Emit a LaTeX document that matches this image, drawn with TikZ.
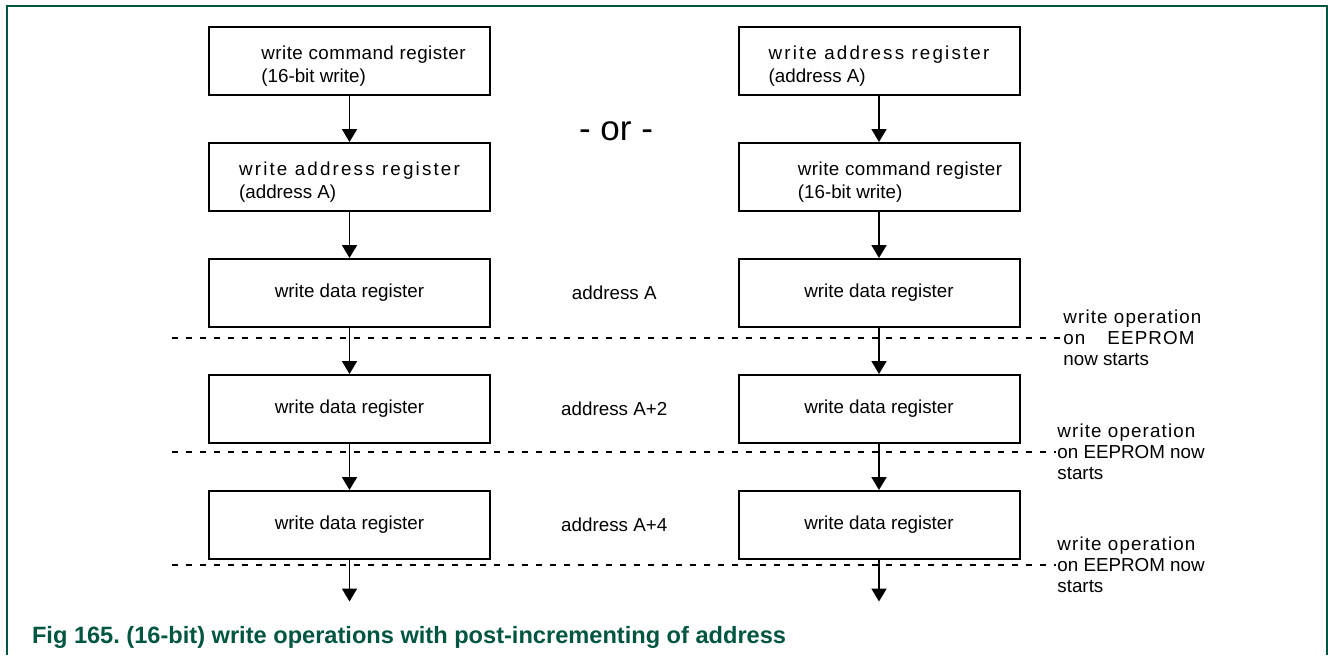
\documentclass[tikz,border=0pt]{standalone}
\usepackage{fontspec}
\setmainfont{Liberation Sans}
\newfontfamily\widefont[LetterSpace=11.5]{Liberation Sans}
\newfontfamily\opfont[LetterSpace=6]{Liberation Sans}
\newfontfamily\cmdfont[LetterSpace=2.5]{Liberation Sans}
\newcommand{\lowstrut}{\rule{0pt}{12pt}}
\usetikzlibrary{positioning, arrows.meta, calc}
\definecolor{figgreen}{HTML}{005641}

\begin{document}
\begin{tikzpicture}[
    x=0.5pt, y=-0.5pt,
    node distance=23.25pt and 0pt,
    font=\fontsize{9.4}{11.5}\selectfont,
    % register boxes
    regbox/.style={
        rectangle,
        draw=black,
        line width=1pt,
        minimum width=140.5pt,
        minimum height=33.75pt,
        align=left,
        inner sep=2pt
    },
    % arrows and start lines
    flow/.style={-{Triangle[length=6.5pt,width=7.5pt]}, line width=0.9pt},
    startline/.style={dash pattern=on 3pt off 4pt, line width=0.7pt},
    oplabel/.style={anchor=west, align=left, inner sep=0.5pt, font=\fontsize{9.4}{10.5}\selectfont},
    caption/.style={anchor=base west, text=figgreen, font=\bfseries\fontsize{11.8}{14}\selectfont}
]
\useasboundingbox (0,0) rectangle (1328,655);

% frame
\draw[figgreen, line width=1pt] (7,655) -- (7,6) -- (1326.5,6) -- (1326.5,655);

% -- left column --
\node[regbox] (l1) at (349.5,60.75) {\lowstrut\hspace*{14pt}{\cmdfont write command register}\\\hspace*{14pt}(16-bit write)};
\node[regbox, below=of l1] (l2) {\lowstrut{\widefont write address register}\\(address A)};
\node[regbox, below=of l2] (l3) {write data register};
\node[regbox, below=of l3] (l4) {write data register};
\node[regbox, below=of l4] (l5) {write data register};
\coordinate[below=21pt of l5] (l6);

% -- right column --
\node[regbox] (r1) at (879,60.75) {\lowstrut{\widefont write address register}\\(address A)};
\node[regbox, below=of r1] (r2) {\lowstrut\hspace*{21pt}{\cmdfont write command register}\\\hspace*{21pt}(16-bit write)};
\node[regbox, below=of r2] (r3) {write data register};
\node[regbox, below=of r3] (r4) {write data register};
\node[regbox, below=of r4] (r5) {write data register};
\coordinate[below=21pt of r5] (r6);

% -- middle texts --
\node[font=\fontsize{17.5}{20}\selectfont] (alt) at (616,131) {- or -};
\node (a1) at ($(l3.east)!0.5!(r3.west)$) {address A};
\node (a2) at ($(l4.east)!0.5!(r4.west)$) {address A+2};
\node (a3) at ($(l5.east)!0.5!(r5.west)$) {address A+4};

% -- write operation notes --
\node[oplabel] (op1) at (1062,338) {{\opfont write operation}\\{\opfont on\hspace{11pt}EEPROM}\\now starts};
\node[oplabel] (op2) at (1056,452) {{\opfont write operation}\\on EEPROM now\\starts};
\node[oplabel] (op3) at (1056,565) {{\opfont write operation}\\on EEPROM now\\starts};

% -- dashed start lines --
\coordinate (dstart) at (172,0);
\draw[startline] (dstart |- op1.west) -- (op1.west);
\draw[startline] (dstart |- op2.west) -- (op2.west);
\draw[startline] (dstart |- op3.west) -- (op3.west);

% -- flow --
\draw[flow] (l1) -- (l2);
\draw[flow] (l2) -- (l3);
\draw[flow] (l3) -- (l4);
\draw[flow] (l4) -- (l5);
\draw[flow] (l5) -- (l6);
\draw[flow] (r1) -- (r2);
\draw[flow] (r2) -- (r3);
\draw[flow] (r3) -- (r4);
\draw[flow] (r4) -- (r5);
\draw[flow] (r5) -- (r6);

% caption
\node[caption] (cap) at (25,643) {Fig 165.\ (16-bit) write operations with post-incrementing of address};

\end{tikzpicture}
\end{document}
